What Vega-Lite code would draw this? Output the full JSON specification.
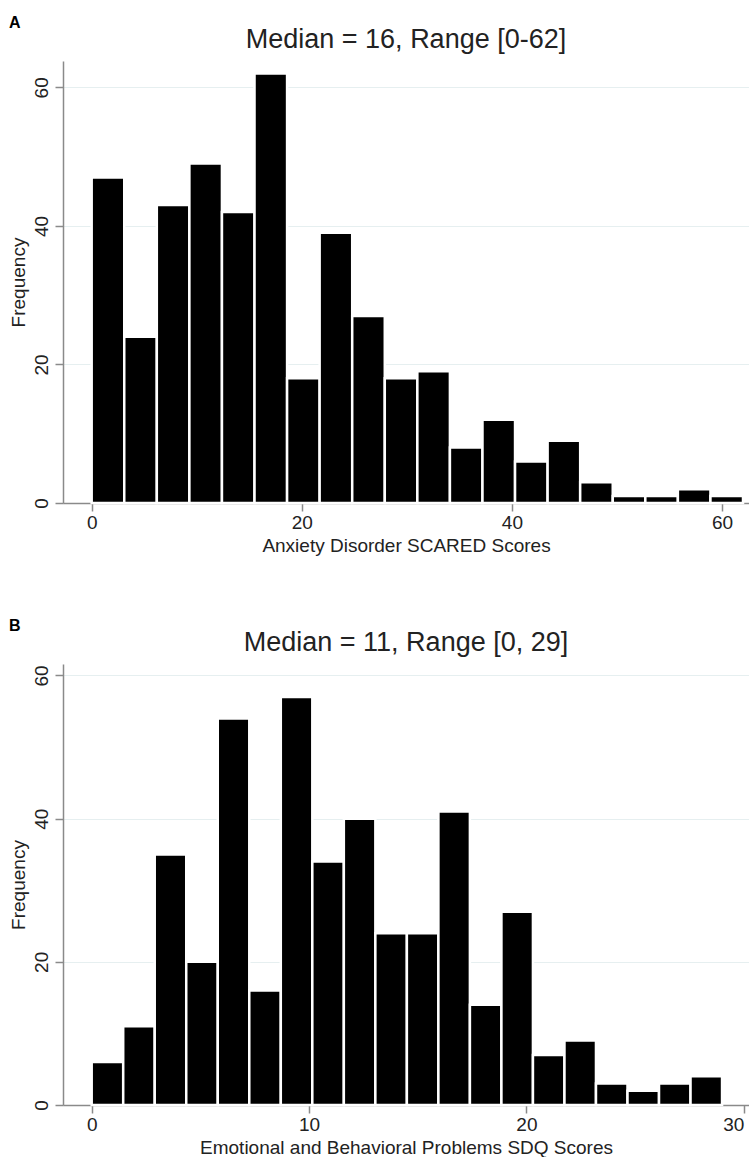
{
  "$schema": "https://vega.github.io/schema/vega-lite/v6.json",
  "background": "white",
  "padding": {"left": 9, "top": 15, "right": 0, "bottom": 0},
  "config": {
    "font": "Liberation Sans",
    "view": {"stroke": null},
    "concat": {"spacing": 63},
    "axis": {
      "domainColor": "#8a8a8a",
      "domainWidth": 1.5,
      "tickColor": "#8a8a8a",
      "tickWidth": 1.5,
      "tickSize": 8,
      "labelFontSize": 19,
      "labelColor": "#222222",
      "titleFontSize": 19,
      "titleFontWeight": "normal",
      "titleColor": "#222222",
      "gridColor": "#e6eff0",
      "gridWidth": 1.2
    },
    "title": {"fontWeight": "normal", "color": "#222222"}
  },
  "datasets": {
    "scared": [
      {"bin_start": 0, "bin_end": 3.1, "count": 47},
      {"bin_start": 3.1, "bin_end": 6.2, "count": 24},
      {"bin_start": 6.2, "bin_end": 9.3, "count": 43},
      {"bin_start": 9.3, "bin_end": 12.4, "count": 49},
      {"bin_start": 12.4, "bin_end": 15.5, "count": 42},
      {"bin_start": 15.5, "bin_end": 18.6, "count": 62},
      {"bin_start": 18.6, "bin_end": 21.7, "count": 18},
      {"bin_start": 21.7, "bin_end": 24.8, "count": 39},
      {"bin_start": 24.8, "bin_end": 27.9, "count": 27},
      {"bin_start": 27.9, "bin_end": 31, "count": 18},
      {"bin_start": 31, "bin_end": 34.1, "count": 19},
      {"bin_start": 34.1, "bin_end": 37.2, "count": 8},
      {"bin_start": 37.2, "bin_end": 40.3, "count": 12},
      {"bin_start": 40.3, "bin_end": 43.4, "count": 6},
      {"bin_start": 43.4, "bin_end": 46.5, "count": 9},
      {"bin_start": 46.5, "bin_end": 49.6, "count": 3},
      {"bin_start": 49.6, "bin_end": 52.7, "count": 1},
      {"bin_start": 52.7, "bin_end": 55.8, "count": 1},
      {"bin_start": 55.8, "bin_end": 58.9, "count": 2},
      {"bin_start": 58.9, "bin_end": 62, "count": 1}
    ],
    "sdq": [
      {"bin_start": 0, "bin_end": 1.45, "count": 6},
      {"bin_start": 1.45, "bin_end": 2.9, "count": 11},
      {"bin_start": 2.9, "bin_end": 4.35, "count": 35},
      {"bin_start": 4.35, "bin_end": 5.8, "count": 20},
      {"bin_start": 5.8, "bin_end": 7.25, "count": 54},
      {"bin_start": 7.25, "bin_end": 8.7, "count": 16},
      {"bin_start": 8.7, "bin_end": 10.15, "count": 57},
      {"bin_start": 10.15, "bin_end": 11.6, "count": 34},
      {"bin_start": 11.6, "bin_end": 13.05, "count": 40},
      {"bin_start": 13.05, "bin_end": 14.5, "count": 24},
      {"bin_start": 14.5, "bin_end": 15.95, "count": 24},
      {"bin_start": 15.95, "bin_end": 17.4, "count": 41},
      {"bin_start": 17.4, "bin_end": 18.85, "count": 14},
      {"bin_start": 18.85, "bin_end": 20.3, "count": 27},
      {"bin_start": 20.3, "bin_end": 21.75, "count": 7},
      {"bin_start": 21.75, "bin_end": 23.2, "count": 9},
      {"bin_start": 23.2, "bin_end": 24.65, "count": 3},
      {"bin_start": 24.65, "bin_end": 26.1, "count": 2},
      {"bin_start": 26.1, "bin_end": 27.55, "count": 3},
      {"bin_start": 27.55, "bin_end": 29, "count": 4}
    ]
  },
  "vconcat": [
    {
      "title": {"text": "A", "anchor": "start", "frame": "bounds", "fontSize": 16, "fontWeight": "bold", "font": "Liberation Sans", "color": "#000000", "offset": -5},
      "vconcat": [
        {
          "title": {"text": "Median = 16, Range [0-62]", "fontSize": 27, "offset": 7},
          "width": 686,
          "height": 442,
          "data": {"name": "scared"},
          "mark": {"type": "bar", "orient": "vertical", "color": "#000000", "stroke": "#ffffff", "strokeWidth": 2.5},
          "encoding": {
            "x": {"field": "bin_start", "type": "quantitative", "scale": {"domain": [-2.73, 62.57], "nice": false, "zero": false, "padding": 0},
                  "axis": {"values": [0, 20, 40, 60], "title": "Anxiety Disorder SCARED Scores", "grid": false, "titlePadding": 4, "labelPadding": 2}},
            "x2": {"field": "bin_end"},
            "y": {"field": "count", "type": "quantitative", "scale": {"domain": [0, 63.8], "nice": false, "padding": 0},
                  "axis": {"values": [0, 20, 40, 60], "title": "Frequency", "labelAngle": -90, "grid": true, "titlePadding": 4, "labelPadding": 4}},
            "y2": {"datum": 0}
          }
        }
      ]
    },
    {
      "title": {"text": "B", "anchor": "start", "frame": "bounds", "fontSize": 16, "fontWeight": "bold", "font": "Liberation Sans", "color": "#000000", "offset": -5},
      "vconcat": [
        {
          "title": {"text": "Median = 11, Range [0, 29]", "fontSize": 27, "offset": 7},
          "width": 686,
          "height": 441,
          "data": {"name": "sdq"},
          "mark": {"type": "bar", "orient": "vertical", "color": "#000000", "stroke": "#ffffff", "strokeWidth": 2.5},
          "encoding": {
            "x": {"field": "bin_start", "type": "quantitative", "scale": {"domain": [-1.32, 30.24], "nice": false, "zero": false, "padding": 0},
                  "axis": {"values": [0, 10, 20, 30], "title": "Emotional and Behavioral Problems SDQ Scores", "grid": false, "titlePadding": 4, "labelPadding": 2,
                           "labelAlign": {"condition": {"test": "datum.value == 30", "value": "right"}, "value": "center"}}},
            "x2": {"field": "bin_end"},
            "y": {"field": "count", "type": "quantitative", "scale": {"domain": [0, 61.6], "nice": false, "padding": 0},
                  "axis": {"values": [0, 20, 40, 60], "title": "Frequency", "labelAngle": -90, "grid": true, "titlePadding": 4, "labelPadding": 4}},
            "y2": {"datum": 0}
          }
        }
      ]
    }
  ]
}
